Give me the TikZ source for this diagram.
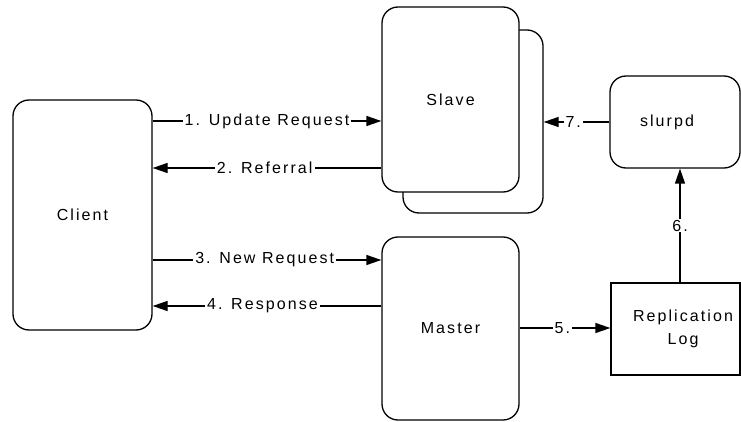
\documentclass[tikz,border=0pt]{standalone}
\usepackage{fontspec}
\setmainfont{Liberation Sans}[LetterSpace=13]
\usetikzlibrary{arrows.meta}
\begin{document}
\begin{tikzpicture}[x=1pt,y=-1pt,
  every node/.style={font=\fontsize{16}{18}\selectfont},
  rbox/.style={draw,line width=1.3pt,rounded corners=16pt,fill=white,inner sep=0pt},
  sbox/.style={draw,line width=1.3pt,fill=white,inner sep=0pt},
  conn/.style={line width=1.3pt,-{Triangle[length=15pt,width=10pt]}},
  lbl/.style={fill=white,inner xsep=2pt,inner ysep=1pt}]
\useasboundingbox (0,0) rectangle (741,422);
% boxes
\node[rbox,minimum width=139pt,minimum height=230pt] (client) at (82.5,215) {Client};
\node[rbox,minimum width=140pt,minimum height=183pt] (slaveback) at (473,121.5) {};
\node[rbox,minimum width=137pt,minimum height=185pt] (slave) at (450.5,99.5) {Slave};
\node[rbox,minimum width=137pt,minimum height=183pt] (master) at (450.5,328.5) {Master};
\node[rbox,minimum width=130pt,minimum height=92pt] (slurpd) at (675,122) {};
\node (slurpdtxt) at (667,122) {slurpd};
\node[sbox,minimum width=129pt,minimum height=92pt] (repl) at (675.5,329) {};
\node[align=center,font=\fontsize{16}{23}\selectfont] (repltxt) at (683,329) {Replication\\Log};
% connectors
\draw[conn] (client.east |- 0,121) -- node[lbl,pos=0.5]{1. Update Request} (slave.west |- 0,121);
\draw[conn] (slave.west |- 0,168) -- node[lbl,pos=0.51]{2. Referral} (client.east |- 0,168);
\draw[conn] (client.east |- 0,260) -- node[lbl,pos=0.49]{3. New Request} (master.west |- 0,260);
\draw[conn] (master.west |- 0,306) -- node[lbl,pos=0.52]{4. Response} (client.east |- 0,306);
\draw[conn] (master.east |- 0,328) -- node[lbl,pos=0.47]{5.} (repl.west |- 0,328);
\draw[conn] (repl.north -| 680,0) -- node[lbl,pos=0.5]{6.} (slurpd.south -| 680,0);
\draw[conn] (slurpd.west) -- node[lbl,pos=0.55]{7.} (slaveback.east |- slurpd.west);
\end{tikzpicture}
\end{document}
